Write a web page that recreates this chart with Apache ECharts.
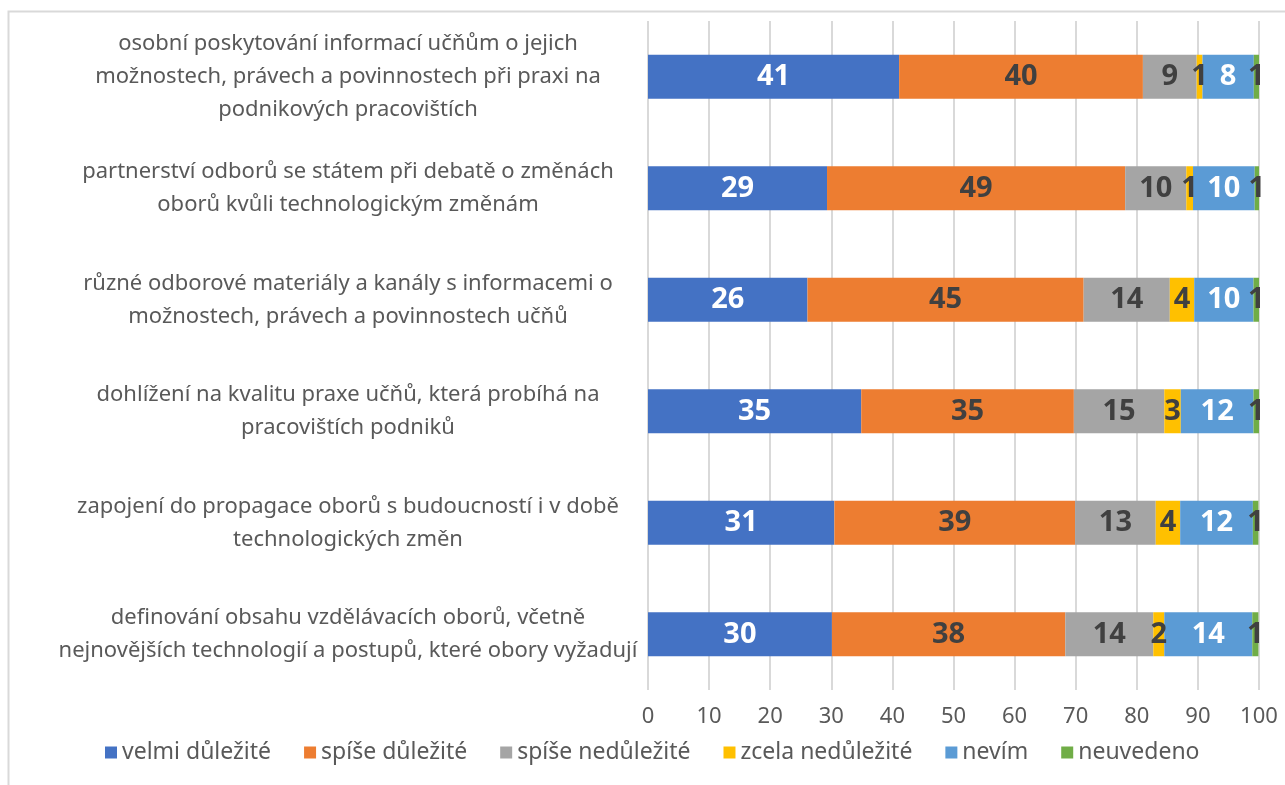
<!DOCTYPE html>
<html><head><meta charset="utf-8">
<script src="https://cdn.jsdelivr.net/npm/echarts@6/dist/echarts.min.js"></script>
<style>html,body{margin:0;padding:0;background:#fff}#c{width:1285px;height:785px}</style>
</head><body><div id="c"></div>
<script>
var categories = [
  "osobní poskytování informací učňům o jejich\nmožnostech, právech a povinnostech při praxi na\npodnikových pracovištích",
  "partnerství odborů se státem při debatě o změnách\noborů kvůli technologickým změnám",
  "různé odborové materiály a kanály s informacemi o\nmožnostech, právech a povinnostech učňů",
  "dohlížení na kvalitu praxe učňů, která probíhá na\npracovištích podniků",
  "zapojení do propagace oborů s budoucností i v době\ntechnologických změn",
  "definování obsahu vzdělávacích oborů, včetně\nnejnovějších technologií a postupů, které obory vyžadují"
];
var seriesNames = ["velmi důležité","spíše důležité","spíše nedůležité","zcela nedůležité","nevím","neuvedeno"];
var velmiDulezite   = [41.1, 29.3, 26.1, 34.9, 30.5, 30.1];
var spiseDulezite   = [39.9, 48.8, 45.2, 34.8, 39.4, 38.2];
var spiseNedulezite = [8.8, 10.0, 14.1, 14.8, 13.2, 14.4];
var zcelaNedulezite = [0.95, 1.1, 4.0, 2.7, 4.0, 1.8];
var nevim           = [8.4, 10.1, 9.7, 11.9, 11.9, 14.4];
var neuvedeno       = [0.9, 0.7, 0.9, 0.9, 0.9, 1.0];
var xTicks = [0,10,20,30,40,50,60,70,80,90,100];

var colors = ["#4472C4","#ED7D31","#A5A5A5","#FFC000","#5B9BD5","#70AD47"];
var labelColors = ["#ffffff","#404040","#404040","#404040","#ffffff","#404040"];
var allData = [velmiDulezite, spiseDulezite, spiseNedulezite, zcelaNedulezite, nevim, neuvedeno];
var FONT = "'Noto Sans', sans-serif";

var series = seriesNames.map(function(n,i){
  return {
    name:n, type:'bar', stack:'total', barWidth:44,
    data: allData[i].slice().reverse(),
    itemStyle:{color:colors[i]},
    label:{show:true, position:'inside', color:labelColors[i], fontFamily:FONT, fontWeight:'bold', fontSize:29,
      formatter:function(p){return Math.round(p.value);} },
    labelLayout:{hideOverlap:false}
  };
});

var chart = echarts.init(document.getElementById('c'), null, {renderer:'canvas'});
chart.setOption({
  animation:false,
  textStyle:{fontFamily:FONT},
  grid:{left:648, right:26, top:21, bottom:95, containLabel:false},
  xAxis:{type:'value', min:0, max:100, interval:10,
    axisLine:{show:false}, axisTick:{show:false},
    splitLine:{lineStyle:{color:'#d9d9d9', width:2}},
    axisLabel:{color:'#595959', fontSize:22, fontFamily:FONT, margin:16,
      formatter:function(v){return xTicks.indexOf(v)>=0? String(v):'';}}
  },
  yAxis:{type:'category', data:categories.slice().reverse(),
    axisLine:{show:false}, axisTick:{show:false},
    axisLabel:{color:'#595959', fontSize:22, fontFamily:FONT, align:'center', margin:300, lineHeight:33}
  },
  legend:{bottom:16, left:100, itemWidth:12, itemHeight:12, itemGap:33, icon:'rect',
    textStyle:{color:'#595959', fontSize:23, fontFamily:FONT}, data:seriesNames},
  graphic:[{type:'rect', shape:{x:8.5, y:11.5, width:1400, height:900}, style:{fill:null, stroke:'#d9d9d9', lineWidth:2}, silent:true, z:-10}],
  series:series
});
</script></body></html>
